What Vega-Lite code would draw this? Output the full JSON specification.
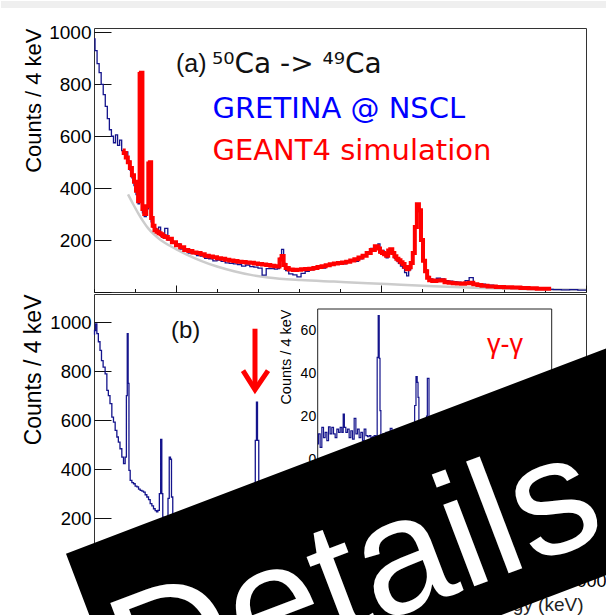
{
"$schema": "https://vega.github.io/schema/vega-lite/v6.json",
"padding": 0,
"background": "white",
"spacing": 2,
"bounds": "flush",
"config": {
  "view": {"stroke": "#333333", "strokeWidth": 1},
  "axis": {"grid": false, "domain": false, "labelFont": "Liberation Sans", "titleFont": "Liberation Sans", "labelColor": "#000000", "titleColor": "#000000", "tickColor": "#111111", "titleFontWeight": "normal", "labelFlush": false, "labelOverlap": false}
},
"datasets": {
  "aBlue": [{"e":200,"c":975},{"e":220,"c":930},{"e":240,"c":880},{"e":260,"c":845},{"e":280,"c":800},{"e":300,"c":760},{"e":320,"c":715},{"e":340,"c":668},{"e":360,"c":625},{"e":380,"c":600},{"e":400,"c":575},{"e":420,"c":605},{"e":440,"c":565},{"e":460,"c":585},{"e":480,"c":545},{"e":500,"c":530},{"e":520,"c":540},{"e":540,"c":505},{"e":560,"c":470},{"e":580,"c":440},{"e":600,"c":410},{"e":620,"c":375},{"e":640,"c":340},{"e":650,"c":820},{"e":665,"c":830},{"e":680,"c":305},{"e":700,"c":290},{"e":720,"c":320},{"e":740,"c":480},{"e":750,"c":490},{"e":765,"c":270},{"e":780,"c":250},{"e":800,"c":245},{"e":820,"c":228},{"e":840,"c":250},{"e":860,"c":215},{"e":880,"c":210},{"e":900,"c":245},{"e":940,"c":200},{"e":980,"c":188},{"e":1020,"c":185},{"e":1060,"c":165},{"e":1100,"c":160},{"e":1140,"c":150},{"e":1180,"c":148},{"e":1220,"c":140},{"e":1260,"c":138},{"e":1300,"c":130},{"e":1340,"c":128},{"e":1380,"c":120},{"e":1420,"c":123},{"e":1460,"c":118},{"e":1500,"c":112},{"e":1540,"c":110},{"e":1580,"c":108},{"e":1620,"c":106},{"e":1660,"c":100},{"e":1700,"c":104},{"e":1740,"c":98},{"e":1780,"c":96},{"e":1820,"c":92},{"e":1860,"c":65},{"e":1900,"c":90},{"e":1940,"c":90},{"e":1980,"c":88},{"e":2000,"c":90},{"e":2020,"c":130},{"e":2040,"c":164},{"e":2060,"c":110},{"e":2080,"c":82},{"e":2120,"c":70},{"e":2160,"c":66},{"e":2200,"c":58},{"e":2240,"c":72},{"e":2280,"c":80},{"e":2320,"c":85},{"e":2360,"c":88},{"e":2400,"c":95},{"e":2440,"c":92},{"e":2480,"c":100},{"e":2520,"c":104},{"e":2560,"c":108},{"e":2600,"c":112},{"e":2640,"c":108},{"e":2680,"c":116},{"e":2720,"c":120},{"e":2760,"c":118},{"e":2800,"c":128},{"e":2840,"c":140},{"e":2880,"c":150},{"e":2920,"c":168},{"e":2960,"c":175},{"e":2980,"c":185},{"e":3000,"c":150},{"e":3020,"c":160},{"e":3040,"c":148},{"e":3060,"c":132},{"e":3080,"c":150},{"e":3100,"c":160},{"e":3120,"c":145},{"e":3140,"c":130},{"e":3160,"c":120},{"e":3180,"c":110},{"e":3200,"c":100},{"e":3220,"c":92},{"e":3240,"c":75},{"e":3260,"c":62},{"e":3280,"c":85},{"e":3300,"c":110},{"e":3320,"c":150},{"e":3340,"c":250},{"e":3360,"c":330},{"e":3380,"c":310},{"e":3400,"c":200},{"e":3420,"c":120},{"e":3440,"c":85},{"e":3460,"c":60},{"e":3480,"c":50},{"e":3520,"c":48},{"e":3560,"c":53},{"e":3600,"c":50},{"e":3640,"c":44},{"e":3680,"c":42},{"e":3720,"c":40},{"e":3760,"c":38},{"e":3800,"c":36},{"e":3840,"c":44},{"e":3880,"c":55},{"e":3920,"c":32},{"e":3960,"c":28},{"e":4000,"c":30},{"e":4040,"c":22},{"e":4080,"c":26},{"e":4120,"c":20},{"e":4160,"c":22},{"e":4200,"c":17},{"e":4240,"c":20},{"e":4280,"c":15},{"e":4320,"c":18},{"e":4360,"c":14},{"e":4400,"c":16},{"e":4480,"c":13},{"e":4560,"c":12},{"e":4640,"c":10},{"e":4720,"c":9},{"e":4800,"c":8},{"e":4880,"c":9},{"e":4960,"c":7},{"e":5000,"c":7}],
  "aRed": [{"e":480,"c":545},{"e":500,"c":535},{"e":520,"c":518},{"e":540,"c":500},{"e":560,"c":478},{"e":580,"c":450},{"e":600,"c":425},{"e":620,"c":390},{"e":640,"c":350},{"e":650,"c":840},{"e":665,"c":845},{"e":680,"c":320},{"e":700,"c":300},{"e":720,"c":330},{"e":740,"c":495},{"e":750,"c":500},{"e":765,"c":285},{"e":780,"c":255},{"e":800,"c":238},{"e":820,"c":232},{"e":840,"c":226},{"e":860,"c":222},{"e":880,"c":216},{"e":900,"c":212},{"e":940,"c":205},{"e":980,"c":192},{"e":1020,"c":180},{"e":1060,"c":172},{"e":1100,"c":162},{"e":1140,"c":158},{"e":1180,"c":152},{"e":1220,"c":150},{"e":1260,"c":145},{"e":1300,"c":140},{"e":1340,"c":137},{"e":1380,"c":134},{"e":1420,"c":130},{"e":1460,"c":128},{"e":1500,"c":124},{"e":1540,"c":121},{"e":1580,"c":119},{"e":1620,"c":117},{"e":1660,"c":116},{"e":1700,"c":114},{"e":1740,"c":113},{"e":1780,"c":110},{"e":1820,"c":108},{"e":1860,"c":106},{"e":1900,"c":104},{"e":1940,"c":101},{"e":1980,"c":99},{"e":2000,"c":98},{"e":2020,"c":125},{"e":2040,"c":139},{"e":2060,"c":104},{"e":2080,"c":92},{"e":2120,"c":87},{"e":2160,"c":85},{"e":2200,"c":86},{"e":2240,"c":88},{"e":2280,"c":89},{"e":2320,"c":90},{"e":2360,"c":92},{"e":2400,"c":96},{"e":2440,"c":99},{"e":2480,"c":103},{"e":2520,"c":107},{"e":2560,"c":110},{"e":2600,"c":112},{"e":2640,"c":114},{"e":2680,"c":117},{"e":2720,"c":121},{"e":2760,"c":126},{"e":2800,"c":133},{"e":2840,"c":140},{"e":2880,"c":150},{"e":2920,"c":162},{"e":2960,"c":176},{"e":2980,"c":168},{"e":3000,"c":155},{"e":3020,"c":150},{"e":3040,"c":145},{"e":3060,"c":140},{"e":3080,"c":160},{"e":3100,"c":165},{"e":3120,"c":150},{"e":3140,"c":138},{"e":3160,"c":128},{"e":3180,"c":122},{"e":3200,"c":115},{"e":3220,"c":108},{"e":3240,"c":96},{"e":3260,"c":88},{"e":3280,"c":95},{"e":3300,"c":112},{"e":3320,"c":150},{"e":3340,"c":250},{"e":3360,"c":338},{"e":3380,"c":315},{"e":3400,"c":200},{"e":3420,"c":120},{"e":3440,"c":80},{"e":3460,"c":55},{"e":3480,"c":45},{"e":3520,"c":42},{"e":3560,"c":44},{"e":3600,"c":45},{"e":3640,"c":38},{"e":3680,"c":36},{"e":3720,"c":34},{"e":3760,"c":33},{"e":3800,"c":32},{"e":3840,"c":34},{"e":3880,"c":36},{"e":3920,"c":30},{"e":3960,"c":27},{"e":4000,"c":24},{"e":4080,"c":21},{"e":4160,"c":19},{"e":4240,"c":18},{"e":4320,"c":17},{"e":4400,"c":15},{"e":4480,"c":14},{"e":4560,"c":13},{"e":4660,"c":13}],
  "aGray": [{"e":532,"c":376},{"e":580,"c":340},{"e":629,"c":305},{"e":680,"c":272},{"e":727,"c":246},{"e":785,"c":222},{"e":850,"c":200},{"e":922,"c":182},{"e":1000,"c":165},{"e":1100,"c":145},{"e":1244,"c":120},{"e":1400,"c":98},{"e":1566,"c":80},{"e":1730,"c":66},{"e":1898,"c":56},{"e":2220,"c":46},{"e":2541,"c":40},{"e":2873,"c":34},{"e":3195,"c":28},{"e":3517,"c":22},{"e":3976,"c":15},{"e":4463,"c":11},{"e":5000,"c":9}],
  "bBlue": [{"e":200,"c":950},{"e":210,"c":966},{"e":220,"c":993},{"e":236,"c":953},{"e":249,"c":920},{"e":268,"c":885},{"e":278,"c":843},{"e":300,"c":816},{"e":317,"c":789},{"e":334,"c":721},{"e":346,"c":700},{"e":366,"c":667},{"e":382,"c":612},{"e":398,"c":592},{"e":415,"c":558},{"e":431,"c":531},{"e":444,"c":510},{"e":463,"c":483},{"e":480,"c":449},{"e":496,"c":422},{"e":512,"c":449},{"e":520,"c":700},{"e":529,"c":953},{"e":537,"c":750},{"e":545,"c":395},{"e":561,"c":354},{"e":578,"c":345},{"e":593,"c":340},{"e":610,"c":330},{"e":627,"c":327},{"e":642,"c":318},{"e":659,"c":313},{"e":676,"c":310},{"e":691,"c":306},{"e":707,"c":295},{"e":724,"c":286},{"e":740,"c":275},{"e":756,"c":259},{"e":773,"c":250},{"e":788,"c":238},{"e":805,"c":230},{"e":815,"c":225},{"e":831,"c":231},{"e":844,"c":300},{"e":857,"c":521},{"e":866,"c":300},{"e":876,"c":204},{"e":888,"c":195},{"e":902,"c":190},{"e":917,"c":200},{"e":927,"c":280},{"e":941,"c":449},{"e":951,"c":440},{"e":961,"c":286},{"e":976,"c":200},{"e":1000,"c":190},{"e":1098,"c":180},{"e":1195,"c":175},{"e":1293,"c":170},{"e":1390,"c":168},{"e":1488,"c":165},{"e":1585,"c":162},{"e":1683,"c":160},{"e":1751,"c":200},{"e":1767,"c":340},{"e":1780,"c":517},{"e":1790,"c":673},{"e":1800,"c":517},{"e":1815,"c":340},{"e":1829,"c":180},{"e":1927,"c":155},{"e":2220,"c":150},{"e":2707,"c":130},{"e":3195,"c":120},{"e":3683,"c":80},{"e":4171,"c":50},{"e":5000,"c":30}],
  "inset": [{"v":0,"c":7},{"v":16,"c":11.7},{"v":34,"c":5.4},{"v":51,"c":14.8},{"v":68,"c":10},{"v":85,"c":12.4},{"v":103,"c":8.6},{"v":119,"c":15},{"v":136,"c":11.7},{"v":154,"c":14.8},{"v":170,"c":11.7},{"v":188,"c":10},{"v":205,"c":14},{"v":222,"c":12.4},{"v":239,"c":14.8},{"v":256,"c":12.4},{"v":267,"c":21},{"v":280,"c":14.8},{"v":297,"c":12.4},{"v":314,"c":14},{"v":331,"c":10},{"v":349,"c":13.2},{"v":365,"c":9.3},{"v":383,"c":19},{"v":400,"c":11.7},{"v":416,"c":14},{"v":434,"c":10},{"v":451,"c":12.4},{"v":468,"c":8.6},{"v":485,"c":14},{"v":503,"c":10.9},{"v":519,"c":10.4},{"v":536,"c":10.9},{"v":554,"c":10},{"v":570,"c":10.4},{"v":588,"c":10.9},{"v":605,"c":10.4},{"v":615,"c":47.5},{"v":626,"c":67},{"v":636,"c":47},{"v":642,"c":22.6},{"v":654,"c":10},{"v":683,"c":11.7},{"v":718,"c":12.4},{"v":736,"c":10},{"v":752,"c":14.3},{"v":772,"c":9},{"v":803,"c":10},{"v":854,"c":9},{"v":906,"c":8},{"v":957,"c":9},{"v":988,"c":12},{"v":1001,"c":25},{"v":1015,"c":38.5},{"v":1026,"c":35.8},{"v":1032,"c":28.8},{"v":1044,"c":12},{"v":1080,"c":9},{"v":1111,"c":10},{"v":1121,"c":20},{"v":1128,"c":37.7},{"v":1136,"c":37.7},{"v":1147,"c":10},{"v":1213,"c":8},{"v":1367,"c":7},{"v":1572,"c":6},{"v":1880,"c":5},{"v":2188,"c":5},{"v":2393,"c":4}],
  "arrowHead": [{"e":1653.7,"c":801.7},{"e":1770.7,"c":724.1},{"e":1897.6,"c":801.7}],
  "banner": [{"e":-73.2,"top":54.3,"bot":54.3},{"e":661.5,"top":171.1,"bot":-755.2},{"e":6121.9,"top":1039.9,"bot":113.5}]
},
"vconcat": [
  {
    "width": 492, "height": 264,
    "layer": [
      {"data": {"name": "aGray"}, "mark": {"type": "line", "color": "#cccccc", "strokeWidth": 2.5, "interpolate": "monotone"},
       "encoding": {
        "x": {"field": "e", "type": "quantitative", "scale": {"domain": [200, 5000], "nice": false, "zero": false},
              "axis": {"values": [200,300,400,500,600,700,800,900,1000,1100,1200,1300,1400,1500,1600,1700,1800,1900,2000,2100,2200,2300,2400,2500,2600,2700,2800,2900,3000,3100,3200,3300,3400,3500,3600,3700,3800,3900,4000,4100,4200,4300,4400,4500,4600,4700,4800,4900,5000],
                       "labels": false, "title": null,
                       "tickSize": {"condition": {"test": "datum.value % 500 === 0", "value": -7}, "value": -3.5}}},
        "y": {"field": "c", "type": "quantitative", "scale": {"domain": [0, 1017], "nice": false, "zero": false},
              "axis": {"values": [0,50,100,150,200,250,300,350,400,450,500,550,600,650,700,750,800,850,900,950,1000],
                       "format": "d",
                       "labelExpr": "datum.value % 200 === 0 && datum.value > 0 ? datum.label : ''",
                       "tickSize": {"condition": {"test": "datum.value % 200 === 0", "value": -17}, "value": -9},
                       "labelPadding": 20, "labelFontSize": 19,
                       "title": "Counts / 4 keV", "titleFontSize": 22, "titleAnchor": "end", "titlePadding": 3}}
       }},
      {"data": {"values": [{}]}, "mark": {"type": "rect", "color": "#efefef", "clip": false},
       "encoding": {"x": {"datum": -707.3, "type": "quantitative"}, "x2": {"datum": 5204.9},
                    "y": {"datum": 1121, "type": "quantitative"}, "y2": {"datum": 1094}}},
      {"data": {"name": "aBlue"}, "mark": {"type": "line", "color": "#14148c", "strokeWidth": 1.3, "interpolate": "step"},
       "encoding": {"x": {"field": "e", "type": "quantitative"}, "y": {"field": "c", "type": "quantitative"}}},
      {"data": {"name": "aRed"}, "mark": {"type": "line", "color": "#ff0000", "strokeWidth": 4, "interpolate": "step"},
       "encoding": {"x": {"field": "e", "type": "quantitative"}, "y": {"field": "c", "type": "quantitative"}}},
      {"data": {"values": [{}]}, "mark": {"type": "text", "text": "(a)", "font": "Liberation Sans", "fontSize": 25, "color": "#111111", "align": "left", "baseline": "alphabetic"},
       "encoding": {"x": {"datum": 1000, "type": "quantitative"}, "y": {"datum": 847.5, "type": "quantitative"}}},
      {"data": {"values": [{}]}, "mark": {"type": "text", "text": "⁵⁰Ca -> ⁴⁹Ca", "font": "DejaVu Sans", "fontSize": 28, "color": "#111111", "align": "left", "baseline": "alphabetic"},
       "encoding": {"x": {"datum": 1351, "type": "quantitative"}, "y": {"datum": 843.7, "type": "quantitative"}}},
      {"data": {"values": [{}]}, "mark": {"type": "text", "text": "GRETINA @ NSCL", "font": "DejaVu Sans", "fontSize": 29, "color": "#0000ff", "align": "left", "baseline": "alphabetic"},
       "encoding": {"x": {"datum": 1356, "type": "quantitative"}, "y": {"datum": 670.3, "type": "quantitative"}}},
      {"data": {"values": [{}]}, "mark": {"type": "text", "text": "GEANT4 simulation", "font": "DejaVu Sans", "fontSize": 29, "color": "#ff0000", "align": "left", "baseline": "alphabetic"},
       "encoding": {"x": {"datum": 1356, "type": "quantitative"}, "y": {"datum": 508.5, "type": "quantitative"}}}
    ]
  },
  {
    "width": 492, "height": 273,
    "layer": [
      {
        "layer": [
          {"data": {"name": "bBlue"}, "mark": {"type": "line", "color": "#14148c", "strokeWidth": 1.3, "interpolate": "step"},
           "encoding": {
            "x": {"field": "e", "type": "quantitative", "scale": {"domain": [200, 5000], "nice": false, "zero": false},
                  "axis": {"values": [200,300,400,500,600,700,800,900,1000,1100,1200,1300,1400,1500,1600,1700,1800,1900,2000,2100,2200,2300,2400,2500,2600,2700,2800,2900,3000,3100,3200,3300,3400,3500,3600,3700,3800,3900,4000,4100,4200,4300,4400,4500,4600,4700,4800,4900,5000],
                           "format": "d",
                           "labelExpr": "datum.value % 500 === 0 ? datum.label : ''",
                           "tickSize": {"condition": {"test": "datum.value % 500 === 0", "value": -7}, "value": -3.5},
                           "labelPadding": 12, "labelFontSize": 18,
                           "title": "Energy (keV)", "titleFontSize": 19, "titleAnchor": "end", "titleAlign": "right", "titleX": 489, "titlePadding": 2, "titleColor": "#222222"}},
            "y": {"field": "c", "type": "quantitative", "scale": {"domain": [0, 1115], "nice": false, "zero": false},
                  "axis": {"values": [0,50,100,150,200,250,300,350,400,450,500,550,600,650,700,750,800,850,900,950,1000,1050],
                           "format": "d",
                           "labelExpr": "datum.value % 200 === 0 && datum.value > 0 ? datum.label : ''",
                           "tickSize": {"condition": {"test": "datum.value % 200 === 0", "value": -17}, "value": -8},
                           "labelPadding": 20, "labelFontSize": 18.5,
                           "title": "Counts / 4 keV", "titleFontSize": 23, "titleAnchor": "end", "titlePadding": 4}}
           }},
          {"data": {"values": [{}]}, "mark": {"type": "text", "text": "(b)", "font": "Liberation Sans", "fontSize": 24, "color": "#111111", "align": "left", "baseline": "alphabetic"},
           "encoding": {"x": {"datum": 951, "type": "quantitative"}, "y": {"datum": 936.5, "type": "quantitative"}}},
          {"data": {"values": [{}]}, "mark": {"type": "rule", "color": "#ff0000", "strokeWidth": 5},
           "encoding": {"x": {"datum": 1770.7, "type": "quantitative"}, "y": {"datum": 973.2, "type": "quantitative"}, "y2": {"datum": 730}}},
          {"data": {"name": "arrowHead"}, "mark": {"type": "line", "color": "#ff0000", "strokeWidth": 5, "strokeJoin": "miter", "strokeCap": "butt"},
           "encoding": {"x": {"field": "e", "type": "quantitative"}, "y": {"field": "c", "type": "quantitative"}}}
        ]
      },
      {
        "layer": [
          {"data": {"name": "inset"}, "mark": {"type": "line", "color": "#14148c", "strokeWidth": 1.2, "interpolate": "step"},
           "encoding": {
            "x": {"field": "v", "type": "quantitative", "scale": {"domain": [0, 2400], "range": [223.7, 457.7], "nice": false, "zero": false}, "axis": null},
            "y": {"field": "c", "type": "quantitative", "scale": {"domain": [0, 70.1], "range": [165, 15], "nice": false, "zero": false},
                  "axis": {"orient": "left", "offset": -223.7, "values": [0,10,20,30,40,50,60],
                           "labelExpr": "datum.value % 20 === 0 ? datum.label : ''",
                           "tickSize": -8,
                           "labelPadding": 10, "labelFontSize": 14,
                           "title": "Counts / 4 keV", "titleFontSize": 14.5, "titleAnchor": "end", "titlePadding": 7}}
           }},
          {"data": {"values": [{}]}, "mark": {"type": "rect", "fill": "white", "stroke": "#222222", "strokeWidth": 1},
           "encoding": {"x": {"datum": 0, "type": "quantitative"}, "x2": {"datum": 2400},
                        "y": {"datum": 0, "type": "quantitative"}, "y2": {"datum": 70.1}}},
          {"data": {"name": "inset"}, "mark": {"type": "line", "color": "#14148c", "strokeWidth": 1.2, "interpolate": "step"},
           "encoding": {"x": {"field": "v", "type": "quantitative"}, "y": {"field": "c", "type": "quantitative"}}},
          {"data": {"values": [{}]}, "mark": {"type": "text", "text": "γ-γ", "font": "Liberation Sans", "fontSize": 27, "color": "#ff0000", "align": "center", "baseline": "alphabetic"},
           "encoding": {"x": {"datum": 1921, "type": "quantitative"}, "y": {"datum": 49.7, "type": "quantitative"}}}
        ]
      },
      {
        "layer": [
          {"data": {"name": "banner"}, "mark": {"type": "area", "color": "#000000", "opacity": 1, "fillOpacity": 1, "clip": false},
           "encoding": {"x": {"field": "e", "type": "quantitative", "scale": {"domain": [200, 5000], "nice": false, "zero": false}, "axis": null},
                        "y": {"field": "top", "type": "quantitative", "scale": {"domain": [0, 1115], "nice": false, "zero": false}, "axis": null},
                        "y2": {"field": "bot"}}},
          {"data": {"values": [{}]}, "mark": {"type": "text", "text": "Details", "font": "Liberation Sans", "fontSize": 165, "color": "#ffffff", "angle": -20.8, "align": "center", "baseline": "alphabetic", "clip": false},
           "encoding": {"x": {"datum": 2930, "type": "quantitative"}, "y": {"datum": -235, "type": "quantitative"}}}
        ]
      }
    ],
    "resolve": {"scale": {"x": "independent", "y": "independent"}, "axis": {"x": "independent", "y": "independent"}}
  }
]
}
